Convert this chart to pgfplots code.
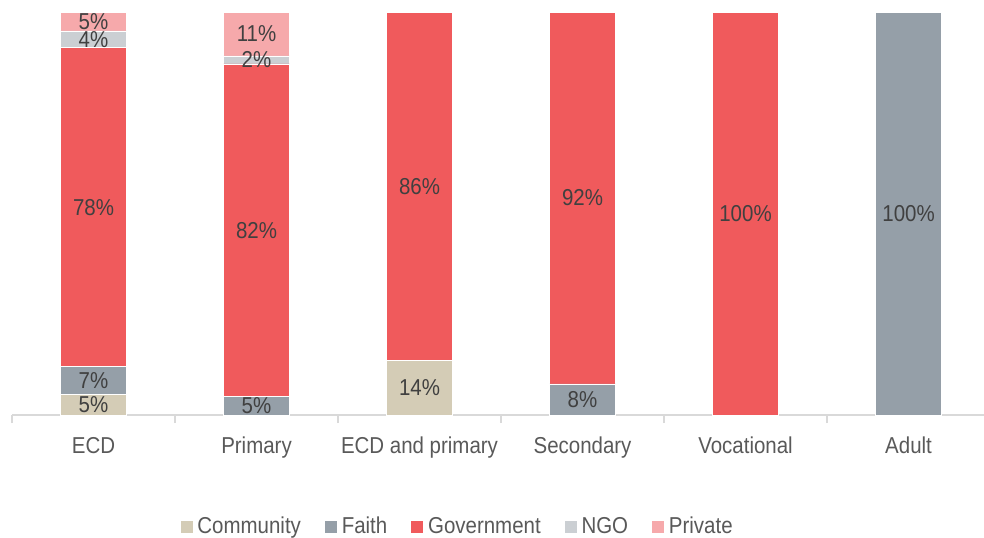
\documentclass[border=0pt]{standalone}
\usepackage{pgfplots}
\pgfplotsset{compat=1.18}
\usepackage{pgfplotstable}
\usepackage{fontspec}
\setmainfont{Liberation Sans}[FakeStretch=0.89]
\definecolor{ccom}{HTML}{D4CCB6}
\definecolor{cfai}{HTML}{959FA8}
\definecolor{cgov}{HTML}{F05A5C}
\definecolor{cngo}{HTML}{CBCFD3}
\definecolor{cpri}{HTML}{F6A9AB}
\definecolor{txt}{HTML}{404040}
\definecolor{tick}{HTML}{595959}
\definecolor{axl}{HTML}{D9D9D9}
\pgfplotstableread{
x val lab
0 5.0 5
1 0 0
2 13.6 14
3 0 0
4 0 0
5 0 0
}\community
\pgfplotstableread{
x val lab
0 7.0 7
1 4.5 5
2 0 0
3 7.7 8
4 0 0
5 100 100
}\faith
\pgfplotstableread{
x val lab
0 79.1 78
1 82.6 82
2 86.4 86
3 92.3 92
4 100 100
5 0 0
}\government
\pgfplotstableread{
x val lab
0 4.2 4
1 2.0 2
2 0 0
3 0 0
4 0 0
5 0 0
}\ngo
\pgfplotstableread{
x val lab
0 4.7 5
1 10.9 11
2 0 0
3 0 0
4 0 0
5 0 0
}\private
\begin{document}
\begin{tikzpicture}
\path[use as bounding box] (-6pt,-61pt) rectangle (486pt,207.5pt);
\begin{axis}[
  scale only axis,
  width=486pt, height=201.5pt,
  ybar stacked,
  bar width=33pt,
  xmin=-0.5, xmax=5.463,
  ymin=0, ymax=100,
  axis y line=none,
  axis x line*=bottom,
  x axis line style={draw=axl, line width=1pt, -},
  xtick={0,1,2,3,4,5},
  xticklabels={ECD,Primary,ECD and primary,Secondary,Vocational,Adult},
  minor xtick={-0.5,0.5,1.5,2.5,3.5,4.5},
  major tick length=0pt,
  minor tick length=4pt,
  tick align=outside,
  xtick pos=bottom,
  every minor tick/.style={draw=axl, line width=1pt},
  x tick label style={font=\fontsize{11.5}{13}\selectfont, text=tick, yshift=-7.5pt},
  clip=false,
  point meta=explicit symbolic,
  nodes near coords={\ifnum\pgfplotspointmeta>0 \pgfplotspointmeta\%\fi},
  every node near coord/.append style={font=\fontsize{11.5}{13}\selectfont, text=txt},
  legend style={at={(0.459,-0.278)}, anchor=center, draw=none, legend columns=-1,
    font=\fontsize{11.5}{13}\selectfont, text=tick,
    /tikz/every even column/.append style={column sep=9.5pt}},
  legend image code/.code={\fill[#1] (0pt,-3.2pt) rectangle (6.5pt,3.2pt);},
  legend cell align=left,
]
\addplot[fill=ccom, draw=white, line width=0.4pt] table[x=x,y=val,meta=lab] {\community};
\addplot[fill=cfai, draw=white, line width=0.4pt] table[x=x,y=val,meta=lab] {\faith};
\addplot[fill=cgov, draw=white, line width=0.4pt] table[x=x,y=val,meta=lab] {\government};
\addplot[fill=cngo, draw=white, line width=0.4pt] table[x=x,y=val,meta=lab] {\ngo};
\addplot[fill=cpri, draw=white, line width=0.4pt] table[x=x,y=val,meta=lab] {\private};
\legend{Community,Faith,Government,NGO,Private}
\end{axis}
\end{tikzpicture}
\end{document}
